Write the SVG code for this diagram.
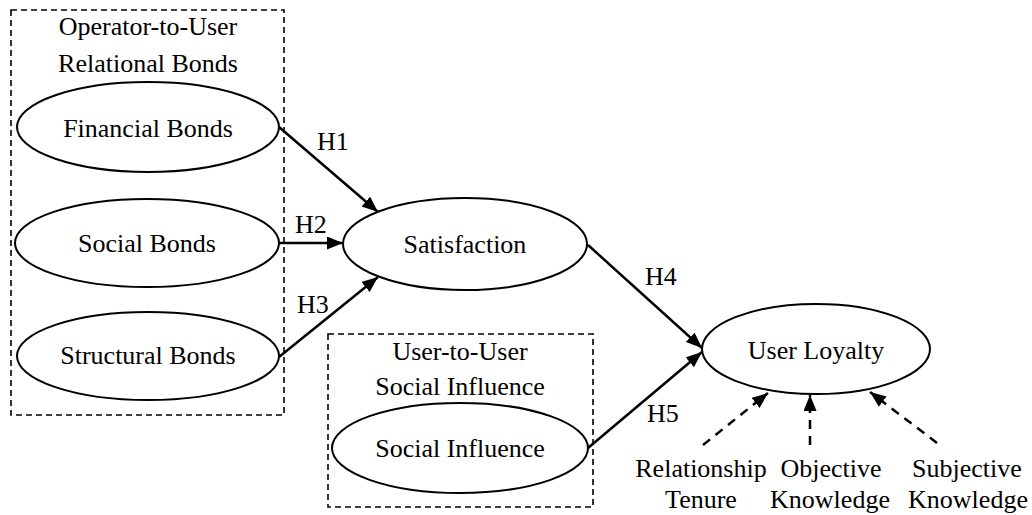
<svg xmlns="http://www.w3.org/2000/svg" width="1032" height="515" viewBox="0 0 1032 515">
<style>
text{font-family:'Liberation Serif','Times New Roman',Times,'DejaVu Serif',serif;font-size:26px;fill:#000;text-anchor:middle}
.node{fill:#fff;stroke:#000;stroke-width:2}
.box{fill:none;stroke:#000;stroke-width:1.6;stroke-dasharray:6,4}
.edge{fill:none;stroke:#000;stroke-width:2.5}
.dedge{fill:none;stroke:#000;stroke-width:2.5;stroke-dasharray:9,7}
.lbl{text-anchor:start}
</style>
<defs>
<marker id="ah" markerUnits="userSpaceOnUse" markerWidth="18" markerHeight="14" refX="16" refY="6.5" orient="auto">
<path d="M0,0 L16,6.5 L0,13 z" fill="#000"/>
</marker>
</defs>
<g id="group-operator">
<rect class="box" x="11" y="10" width="273" height="405"/>
<text x="148" y="35">Operator-to-User</text>
<text x="148" y="72">Relational Bonds</text>
</g>
<g id="group-user">
<rect class="box" x="328" y="334" width="265" height="173"/>
<text x="460" y="360">User-to-User</text>
<text x="460" y="395">Social Influence</text>
</g>
<g id="connectors">
<line class="edge" x1="279" y1="127" x2="378" y2="212" marker-end="url(#ah)"/>
<line class="edge" x1="279" y1="243" x2="343" y2="243" marker-end="url(#ah)"/>
<line class="edge" x1="279" y1="357" x2="378" y2="277" marker-end="url(#ah)"/>
<line class="edge" x1="588" y1="245" x2="702" y2="348" marker-end="url(#ah)"/>
<line class="edge" x1="588" y1="448" x2="702" y2="352" marker-end="url(#ah)"/>
<line class="dedge" x1="703" y1="445" x2="768" y2="393" marker-end="url(#ah)"/>
<line class="dedge" x1="810" y1="445" x2="810" y2="395" marker-end="url(#ah)"/>
<line class="dedge" x1="937" y1="443" x2="870" y2="392" marker-end="url(#ah)"/>
<text class="lbl" x="317" y="150">H1</text>
<text class="lbl" x="295" y="233">H2</text>
<text class="lbl" x="297" y="313">H3</text>
<text class="lbl" x="645" y="285">H4</text>
<text class="lbl" x="647" y="422">H5</text>
</g>
<g id="financial-bonds">
<ellipse class="node" cx="148" cy="127" rx="131" ry="45"/>
<text x="148" y="137">Financial Bonds</text>
</g>
<g id="social-bonds">
<ellipse class="node" cx="147" cy="243" rx="132" ry="44"/>
<text x="147" y="252">Social Bonds</text>
</g>
<g id="structural-bonds">
<ellipse class="node" cx="148" cy="356" rx="131" ry="44"/>
<text x="148" y="364">Structural Bonds</text>
</g>
<g id="satisfaction">
<ellipse class="node" cx="465" cy="244" rx="122" ry="46"/>
<text x="465" y="253">Satisfaction</text>
</g>
<g id="social-influence">
<ellipse class="node" cx="460" cy="448" rx="128" ry="45"/>
<text x="460" y="457">Social Influence</text>
</g>
<g id="user-loyalty">
<ellipse class="node" cx="816" cy="349" rx="114" ry="45"/>
<text x="816" y="359">User Loyalty</text>
</g>
<g id="relationship-tenure">
<text x="701" y="477">Relationship</text>
<text x="701" y="508">Tenure</text>
</g>
<g id="objective-knowledge">
<text x="831" y="477">Objective</text>
<text x="830" y="508">Knowledge</text>
</g>
<g id="subjective-knowledge">
<text x="967" y="477">Subjective</text>
<text x="968" y="508">Knowledge</text>
</g>
</svg>
